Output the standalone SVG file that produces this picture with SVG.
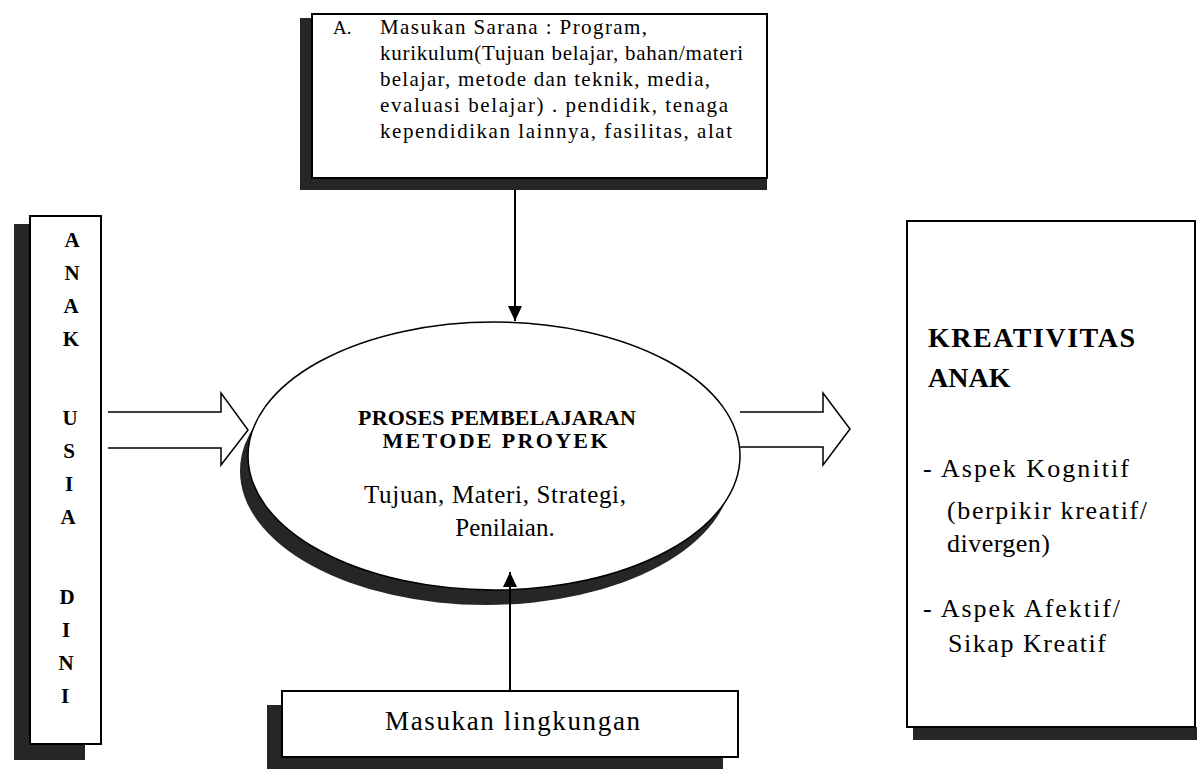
<svg xmlns="http://www.w3.org/2000/svg" width="1197" height="769" viewBox="0 0 1197 769">
  <style>
    .box { fill: #ffffff; stroke: #000000; stroke-width: 2; }
    .shadow { fill: #262626; }
    .serif { font-family: "Liberation Serif", "Times New Roman", serif; fill: #000000; }
    .bold { font-weight: bold; }
    .conn { stroke: #000000; stroke-width: 2; fill: none; }
    .fat { stroke: #000000; stroke-width: 1.5; fill: #ffffff; }
  </style>
  <defs>
    <marker id="tri" markerUnits="userSpaceOnUse" markerWidth="16" markerHeight="16" refX="15" refY="8" orient="auto">
      <path d="M0,1 L15,8 L0,15 Z" fill="#000000"/>
    </marker>
  </defs>
  <rect width="1197" height="769" fill="#ffffff"/>

  <g id="node-top-input">
    <rect class="shadow" x="300" y="18" width="467" height="172"/>
    <rect class="box" x="312" y="14" width="455" height="164"/>
    <text class="serif" x="333" y="34" font-size="19">A.</text>
    <text class="serif" x="380" y="34" font-size="21" textLength="267" lengthAdjust="spacing">Masukan Sarana : Program,</text>
    <text class="serif" x="380" y="60" font-size="21" textLength="363" lengthAdjust="spacing">kurikulum(Tujuan belajar, bahan/materi</text>
    <text class="serif" x="380" y="86" font-size="21" textLength="330" lengthAdjust="spacing">belajar, metode dan teknik, media,</text>
    <text class="serif" x="380" y="112" font-size="21" textLength="348" lengthAdjust="spacing">evaluasi belajar) . pendidik, tenaga</text>
    <text class="serif" x="380" y="138" font-size="21" textLength="352" lengthAdjust="spacing">kependidikan lainnya, fasilitas, alat</text>
  </g>

  <g id="node-anak">
    <rect class="shadow" x="14" y="224" width="71" height="536"/>
    <rect class="box" x="30" y="216" width="71" height="528"/>
    <g class="serif bold" font-size="21" text-anchor="middle">
      <text x="72" y="247">A</text>
      <text x="72" y="280">N</text>
      <text x="71" y="313">A</text>
      <text x="71" y="346">K</text>
      <text x="70" y="425">U</text>
      <text x="69" y="458">S</text>
      <text x="69" y="491">I</text>
      <text x="68" y="524">A</text>
      <text x="67" y="604">D</text>
      <text x="66" y="637">I</text>
      <text x="66" y="670">N</text>
      <text x="65" y="703">I</text>
    </g>
  </g>

  <g id="node-proses">
    <ellipse cx="486" cy="471" rx="246" ry="134" class="shadow"/>
    <ellipse cx="494" cy="456" rx="246" ry="134" fill="#ffffff" stroke="#000000" stroke-width="1.5"/>
    <text class="serif bold" x="497" y="425" font-size="22" text-anchor="middle" textLength="278" lengthAdjust="spacing">PROSES PEMBELAJARAN</text>
    <text class="serif bold" x="495" y="448" font-size="22" text-anchor="middle" textLength="225" lengthAdjust="spacing">METODE PROYEK</text>
    <text class="serif" x="495" y="503" font-size="25" text-anchor="middle" textLength="262" lengthAdjust="spacing">Tujuan, Materi, Strategi,</text>
    <text class="serif" x="505" y="536" font-size="25" text-anchor="middle">Penilaian.</text>
  </g>

  <g id="node-kreativitas">
    <rect class="shadow" x="913" y="727" width="284" height="13"/>
    <rect class="box" x="907" y="221" width="288" height="506"/>
    <text class="serif bold" x="928" y="347" font-size="28" textLength="207" lengthAdjust="spacing">KREATIVITAS</text>
    <text class="serif bold" x="928" y="387" font-size="28">ANAK</text>
    <text class="serif" x="923" y="477" font-size="26" textLength="206" lengthAdjust="spacing">- Aspek Kognitif</text>
    <text class="serif" x="947" y="519" font-size="26" textLength="200" lengthAdjust="spacing">(berpikir kreatif/</text>
    <text class="serif" x="947" y="552" font-size="26" textLength="103" lengthAdjust="spacing">divergen)</text>
    <text class="serif" x="923" y="617" font-size="26" textLength="197" lengthAdjust="spacing">- Aspek Afektif/</text>
    <text class="serif" x="948" y="652" font-size="26" textLength="158" lengthAdjust="spacing">Sikap Kreatif</text>
  </g>

  <g id="node-lingkungan">
    <rect class="shadow" x="267" y="705" width="456" height="64"/>
    <rect class="box" x="282" y="691" width="456" height="66"/>
    <text class="serif" x="385" y="730" font-size="27" textLength="255" lengthAdjust="spacing">Masukan lingkungan</text>
  </g>

  <g id="connectors">
    <path class="fat" d="M108,412 L221,412 L221,393 L248,430 L221,465 L221,448 L108,448"/>
    <path class="fat" d="M740,412 L823,412 L823,393 L850,429 L823,465 L823,447 L740,447"/>
    <line class="conn" x1="515" y1="190" x2="515" y2="321" marker-end="url(#tri)"/>
    <line class="conn" x1="510" y1="691" x2="510" y2="572" marker-end="url(#tri)"/>
  </g>
</svg>
